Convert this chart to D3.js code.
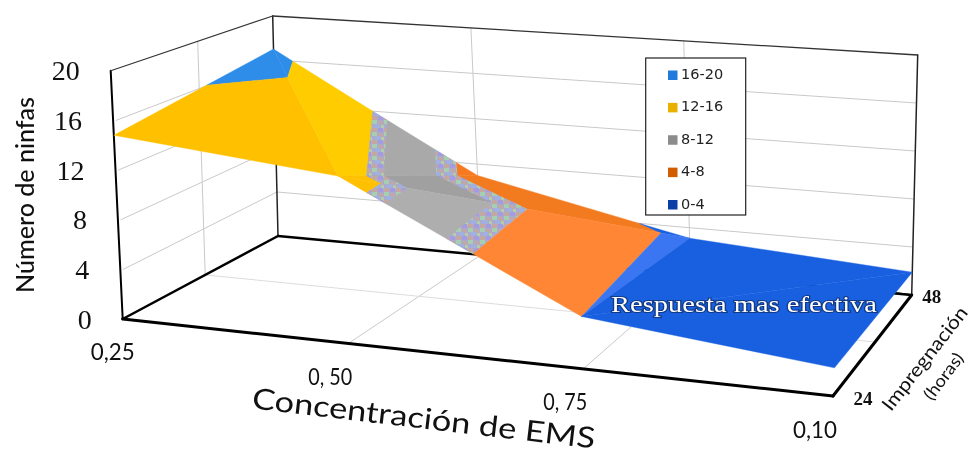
<!DOCTYPE html>
<html><head><meta charset="utf-8">
<script src="https://cdn.jsdelivr.net/npm/d3@7/dist/d3.min.js"></script>
<style>html,body{margin:0;padding:0;background:#fff}svg{display:block;filter:blur(.35px)}</style></head>
<body><svg id="c" width="968" height="452"></svg>
<script>
const concLabels=["0,25","0, 50","0, 75","0,10"];
const hourLabels=["24","48"];
const zTicks=[0,4,8,12,16,20];
const values24=[14.8,13.1,4.0,2.1];
const values48=[17.0,7.0,3.1,1.9];
const bandNames=["16-20","12-16","8-12","4-8","0-4"];
const bandLow=[16,12,8,4,0];
const legendColors=["#1f7bdc","#e9b000","#8c8c8c","#d25d00","#0b3fa8"];
// facet shading, one colour per band (top band first), for the six triangles of the surface
const facetColors=[
 ["#2e8de8","#ffc000","#a9a9a9","#f77a20","#1860e0"],
 ["#2e8de8","#ffcc00","#a9a9a9","#f77a20","#1860e0"],
 ["#2e8de8","#ffc000","#a0a0a0","#f27a1f","#1860e0"],
 ["#2e8de8","#ffc000","#aeaeae","#ff8635","#3a76f2"],
 ["#2e8de8","#ffc000","#aeaeae","#ff8635","#1860e0"],
 ["#2e8de8","#ffc000","#aeaeae","#ff8635","#1860e0"]];

const svg=d3.select("#c");
// plot box corners in the picture
const floorBox=[[122.7,319],[833,396],[911.7,295],[278,236]];
const topBox=[[110.7,70.7],[847,128],[917.7,55],[272.7,16]];
function homography(q){
  const [[x0,y0],[x1,y1],[x2,y2],[x3,y3]]=q;
  const dx1=x1-x2,dx2=x3-x2,dx3=x0-x1+x2-x3,dy1=y1-y2,dy2=y3-y2,dy3=y0-y1+y2-y3;
  const det=dx1*dy2-dx2*dy1;
  const g=(dx3*dy2-dx2*dy3)/det,h=(dx1*dy3-dx3*dy1)/det;
  const a=x1-x0+g*x1,b=x3-x0+h*x3,d=y1-y0+g*y1,e=y3-y0+h*y3;
  return (u,v)=>{const w=g*u+h*v+1;return [(a*u+b*v+x0)/w,(d*u+e*v+y0)/w];};
}
const hFloor=homography(floorBox),hTop=homography(topBox);
const uScale=d3.scaleLinear().domain(d3.range(concLabels.length)).range([0,.341,.672,1]);
const vScale=d3.scalePoint().domain(d3.range(hourLabels.length)).range([0,1]);
const zScale=d3.scaleLinear().domain([0,20]).range([0,1]);
function proj(u,v,z){const f=hFloor(u,v),t=hTop(u,v),k=zScale(z);return [f[0]+(t[0]-f[0])*k,f[1]+(t[1]-f[1])*k];}
const path=d3.line().curve(d3.curveLinearClosed);
const seg=(a,b,o)=>svg.append("line").attr("x1",a[0]).attr("y1",a[1]).attr("x2",b[0]).attr("y2",b[1])
  .attr("stroke",o.c||"#000").attr("stroke-width",o.w||1).attr("stroke-dasharray",o.d||null).attr("stroke-linecap","round");

// speckle pattern at the band edges
const defs=svg.append("defs");
const pat=defs.append("pattern").attr("id","speck").attr("patternUnits","userSpaceOnUse").attr("width",12).attr("height",12);
pat.append("rect").attr("width",12).attr("height",12).attr("fill","#aaa9cf");
[[0,0,"#a5cfb0"],[6,1,"#c0a8a8"],[3,4,"#a0b0e0"],[9,5,"#b4cca8"],[0,8,"#c4a8a0"],[6,8,"#a49ce0"]].forEach(d=>
  pat.append("rect").attr("x",d[0]).attr("y",d[1]).attr("width",5).attr("height",4).attr("fill",d[2]));

// walls' grid
const grid={c:"#c9c9c9",w:1};
zTicks.slice(1,-1).forEach(z=>{
  seg(proj(0,1,z),proj(1,1,z),grid);
  const a=proj(0,0,z);seg([a[0]+3,a[1]],proj(0,1,z),grid);
});
d3.range(1,concLabels.length-1).forEach(i=>{
  const u=uScale(i);
  seg(proj(u,1,0),proj(u,1,20),grid);
  seg(proj(u,0,0),proj(u,1,0),grid);
});
seg(proj(0,.5,0),proj(0,.5,20),grid);
seg(proj(0,.5,0),proj(1,.5,0),{c:"#dcdcdc",w:1});

// frame
seg(proj(0,0,0),proj(0,0,20),{w:2});
seg(proj(0,1,0),proj(0,1,20),{w:1.5,c:"#222"});
seg(proj(1,1,0),proj(1,1,20),{w:1.5,c:"#222"});
seg(proj(0,0,20),proj(0,1,20),{w:1.2,c:"#333"});
seg(proj(0,1,20),proj(1,1,20),{w:1.3,c:"#333"});
seg(proj(0,0,0),proj(1,0,0),{w:3});
seg(proj(0,0,0),proj(0,1,0),{w:2.5});
seg(proj(0,1,0),proj(1,1,0),{w:2.5});
seg(proj(1,0,0),proj(1,1,0),{w:3});
const br=proj(1,1,0);seg([br[0]-15,br[1]-2],br,{w:1.5});

// surface: triangles cut into bands at the contour levels
function clip(poly,test,level){
  const out=[];
  poly.forEach((p,i)=>{
    const q=poly[(i+1)%poly.length],pi=test(p[2]),qi=test(q[2]);
    if(pi)out.push(p);
    if(pi!==qi){const t=(level-p[2])/(q[2]-p[2]);out.push([p[0]+t*(q[0]-p[0]),p[1]+t*(q[1]-p[1]),level]);}
  });
  return out;
}
function band(tri,lo,hi){
  let p=clip(tri,z=>z>=lo,lo);
  if(p.length)p=clip(p,z=>z<=hi,hi);
  return p;
}
const vtx=(i,j)=>[uScale(i),vScale(j),(j?values48:values24)[i]];
const tris=[
 [vtx(0,0),vtx(0,1),vtx(1,0)],
 [vtx(0,1),vtx(1,1),vtx(1,0)],
 [vtx(1,0),vtx(1,1),vtx(2,1)],
 [vtx(1,0),vtx(2,1),vtx(2,0)],
 [vtx(2,1),vtx(3,1),vtx(2,0)],
 [vtx(2,0),vtx(3,1),vtx(3,0)]];
const toPix=p=>p.map(d=>proj(d[0],d[1],d[2]));
tris.forEach((tri,t)=>{
  bandLow.forEach((lo,b)=>{
    const p=band(tri,lo,lo+4);
    if(p.length>2)svg.append("path").attr("d",path(toPix(p))).attr("fill",facetColors[t][b]).attr("stroke",facetColors[t][b]).attr("stroke-width",.4);
  });
  [[11.3,12],[8,9]].forEach(r=>{
    const p=band(tri,r[0],r[1]);
    if(p.length>2)svg.append("path").attr("d",path(toPix(p))).attr("fill","url(#speck)");
  });
});

// axis text
const text=(s,x,y,o)=>{const e=svg.append("text").attr("x",x).attr("y",y).text(s)
   .attr("font-family",o.f||"Lato").attr("font-size",o.s).attr("fill",o.c||"#111")
   .attr("text-anchor",o.a||"middle").attr("dominant-baseline","central").attr("font-weight",o.b||null);
   if(o.r!=null)e.attr("transform",`rotate(${o.r} ${x} ${y})`);
   if(o.l)e.attr("textLength",o.l).attr("lengthAdjust","spacingAndGlyphs");
   return e;};
zTicks.forEach(z=>{const p=proj(0,0,z);text(z,p[0]-31,p[1],{s:28,a:"end",f:"Liberation Serif"});});
concLabels.forEach((s,i)=>{const p=proj(uScale(i),0,0);text(s,p[0]-(i?18:10),p[1]+(i?32:31),{s:24,l:44});});
hourLabels.forEach((s,j)=>{const p=proj(1,vScale(j),0);text(s,p[0]+(j?20:30),p[1]+(j?1:2),{s:19,b:"bold",f:"Liberation Serif"});});
text("Número de ninfas",24,195,{s:24,r:-90,l:196,b:500});
text("Concentración de EMS",424,417,{s:29,r:6.7,l:345});
text("Impregnación",924,358,{s:19,r:-52,l:126});
text("(horas)",943,376,{s:17,r:-53,l:54});
text("Respuesta mas efectiva",744,304,{s:23,f:"Liberation Serif",c:"#fff",l:266})
  .attr("stroke","#123a86").attr("stroke-width",2.2).attr("paint-order","stroke");

// legend
svg.append("rect").attr("x",645.7).attr("y",58).attr("width",100).attr("height",157).attr("fill","#fff").attr("stroke","#222").attr("stroke-width",1.2);
const ly=d3.scalePoint().domain(bandNames).range([75,204.5]);
bandNames.forEach((s,i)=>{
  svg.append("rect").attr("x",668).attr("y",ly(s)-4.5).attr("width",9.5).attr("height",9.5).attr("fill",legendColors[i]);
  text(s,681,ly(s)-1,{s:14.5,a:"start",f:"DejaVu Sans",c:"#222"});
});
</script></body></html>
